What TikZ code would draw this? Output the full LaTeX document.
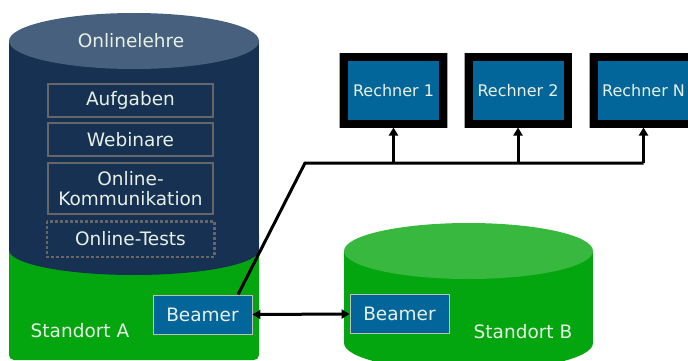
\documentclass[tikz,border=0pt]{standalone}
\usepackage{fontspec}
\setmainfont{DejaVu Sans}
\usetikzlibrary{arrows.meta}
\definecolor{navybody}{HTML}{163152}
\definecolor{navytop}{HTML}{46607D}
\definecolor{gbody}{HTML}{03A60E}
\definecolor{gtop}{HTML}{38B83F}
\definecolor{bluebox}{HTML}{03669A}
\definecolor{txt}{HTML}{E8F0E6}
\definecolor{boxgray}{HTML}{666666}
\tikzset{
  lbl/.style={text=txt, font=\fontsize{18.5}{21}\selectfont, inner sep=0pt, align=center},
  itembox/.style={draw=boxgray, line width=2.5pt, minimum width=165pt, minimum height=33pt, text=txt, font=\fontsize{18.5}{21}\selectfont, inner sep=0pt, align=center},
  beamerbox/.style={fill=bluebox, draw=gray!50, line width=0.8pt, minimum width=99pt, minimum height=39pt, text=txt, font=\fontsize{18.5}{21}\selectfont, inner sep=0pt},
  rechnerbox/.style={fill=bluebox, draw=black, line width=8pt, minimum width=99pt, minimum height=66pt, text=txt, font=\fontsize{16}{20}\selectfont, inner sep=0pt, preaction={draw=gray!70, line width=9.5pt}},
  conn/.style={line width=3pt, draw=black},
  tip/.style={-{Triangle[length=8pt,width=9pt]}}
}
\begin{document}
\begin{tikzpicture}[x=1pt,y=-1pt]
\useasboundingbox (0,0) rectangle (688,361);
\begin{scope}
\clip (0,0) rectangle (688,361);
% Standort A (green, behind)
\fill[gbody, rounded corners=5pt] (9,230) rectangle (259,360);
% Onlinelehre cylinder
\fill[navybody] (9,41) rectangle (259,250);
\fill[navybody] (134,250) ellipse [x radius=125, y radius=25];
\fill[navytop] (134,41) ellipse [x radius=125, y radius=28];
% Standort B cylinder
\fill[gbody] (344,251) rectangle (593,343);
\fill[gbody] (468.5,343) ellipse [x radius=124.5, y radius=28];
\fill[gtop] (468.5,251) ellipse [x radius=124.5, y radius=28];

\node[lbl] (onl) at (131,41) {Onlinelehre};
\node[itembox] (auf) at (130.5,100.5) {Aufgaben};
\node[itembox] (web) at (130.5,139.5) {Webinare};
\node[itembox, minimum height=51pt] (kom) at (130.5,188.5) {Online-\\[-1pt]Kommunikation};
\node[itembox, draw=none] (tst) at (130.5,239) {Online-Tests};
\draw[boxgray, line width=2.5pt, dash pattern=on 2.5pt off 2.5pt] (tst.north west) rectangle (tst.south east);

\node[lbl] (sa) at (80,331) {Standort A};
\node[lbl] (sb) at (523,332) {Standort B};

\node[beamerbox] (bA) at (202.5,314.5) {Beamer};
\node[beamerbox] (bB) at (399.5,314) {Beamer};

\node[rechnerbox] (r1) at (393.5,90.5) {Rechner 1};
\node[rechnerbox] (r2) at (518,90.5) {Rechner 2};
\node[rechnerbox] (r3) at (643.5,90.5) {Rechner N};

\coordinate (hub) at (305,163);
\draw[conn] ([xshift=35.5pt]bA.north) -- (hub) -- (hub -| r3.south);
\draw[conn,tip] (hub -| r1.south) -- (r1.south);
\draw[conn,tip] (hub -| r2.south) -- (r2.south);
\draw[conn,tip] (hub -| r3.south) -- (r3.south);
\draw[conn,{Triangle[length=8pt,width=9pt]}-{Triangle[length=8pt,width=9pt]}] (bA.east) -- (bB.west);
\end{scope}
\end{tikzpicture}
\end{document}
